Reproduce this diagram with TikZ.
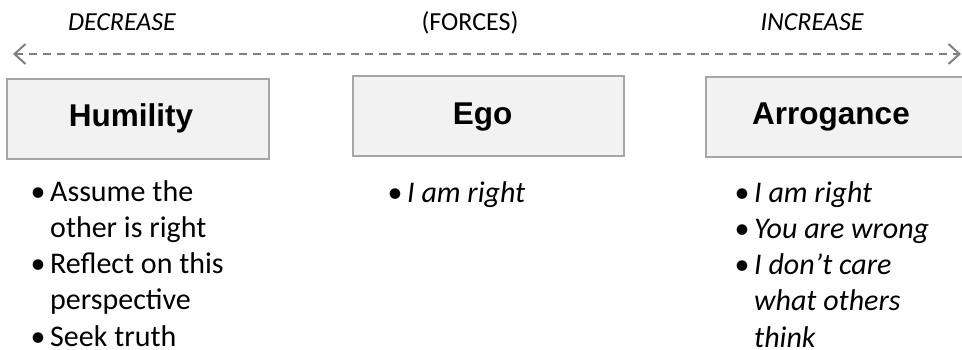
\documentclass[tikz,border=0pt]{standalone}
\usepackage{fontspec}
\setmainfont{Carlito}
\newfontfamily\titlefont{Liberation Sans}
\usetikzlibrary{arrows.meta}
\definecolor{boxfill}{HTML}{F2F2F2}
\definecolor{boxline}{HTML}{A6A6A6}
\definecolor{arrowgray}{HTML}{808080}
\tikzset{
  titlebox/.style={draw=boxline, line width=2pt, fill=boxfill, minimum height=80pt, inner sep=0pt,
    font=\titlefont\bfseries\fontsize{31.5}{36}\selectfont, text height=23pt, text depth=7pt},
  toplabel/.style={font=\fontsize{26}{30}\selectfont, anchor=base, inner sep=0pt},
  bulletlist/.style={anchor=north west, inner sep=0pt, font=\fontsize{30}{36.2}\selectfont},
  forcearrow/.style={draw=arrowgray, line width=2pt, dash pattern=on 8pt off 6pt,
    {Straight Barb[length=11pt,width=20pt]}-{Straight Barb[length=11pt,width=20pt]}}
}
\newcommand{\bul}{\makebox[24pt]{•}}
\begin{document}
\begin{tikzpicture}[x=1pt,y=-1pt]
\useasboundingbox (0,0) rectangle (962,350);
% top labels
\node[toplabel] (dec) at (122,31) {\itshape DECREASE};
\node[toplabel] (frc) at (470,31) {(FORCES)};
\node[toplabel] (inc) at (812,31) {\itshape INCREASE};
% arrow
\coordinate (aL) at (13,54);
\coordinate (aR) at (961,54);
\draw[forcearrow] (aL) -- (aR);
% boxes
\node[titlebox, minimum width=262pt] (hum) at (138,119) {Humility\rule{14pt}{0pt}};
\node[titlebox, minimum width=271pt] (ego) at (488.5,116.5) {Ego\rule{12pt}{0pt}};
\node[titlebox, minimum width=270pt] (arr) at (841,117) {Arrogance\rule{20pt}{0pt}};
% lists
\node[bulletlist] (humlist) at (26,175.8) {%
\begin{tabular}{@{}l@{}l@{}}
\bul & Assume the\\
 & other is right\\
\bul & Reflect on this\\
 & perspective\\
\bul & Seek truth
\end{tabular}};
\node[bulletlist] (egolist) at (383,176.8) {%
\begin{tabular}{@{}l@{}l@{}}
\bul & \itshape I am right
\end{tabular}};
\node[bulletlist] (arrlist) at (730,176.8) {%
\begin{tabular}{@{}l@{}l@{}}
\bul & \itshape I am right\\
\bul & \itshape You are wrong\\
\bul & \itshape I don’t care\\
 & \itshape what others\\
 & \itshape think
\end{tabular}};
\end{tikzpicture}
\end{document}
